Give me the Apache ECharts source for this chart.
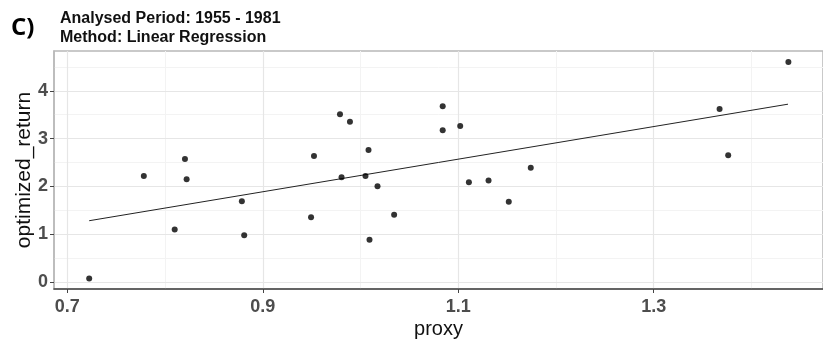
<!DOCTYPE html>
<html>
<head>
<meta charset="utf-8">
<script src="https://cdn.jsdelivr.net/npm/echarts@6/dist/echarts.min.js"></script>
<style>
  html, body { margin: 0; padding: 0; background: #fff; }
  #chart { width: 823px; height: 344px; }
</style>
</head>
<body>
<div id="chart"></div>
<script>
// scatter points (27 years, 1955 - 1981)
var proxy = [0.7224, 0.7783, 0.8204, 0.8221, 0.8099, 0.8786, 0.881, 0.9524, 0.9494,
  0.979, 0.9892, 0.9806, 1.0082, 1.0051, 1.0174, 1.0344, 1.0092, 1.0841, 1.0841,
  1.102, 1.1109, 1.131, 1.1517, 1.1742, 1.3674, 1.3762, 1.4378];
var optimizedReturn = [0.07, 2.215, 2.572, 2.148, 1.095, 1.69, 0.978, 2.634, 1.354,
  3.508, 3.352, 2.189, 2.763, 2.215, 2.004, 1.403, 0.882, 3.68, 3.173,
  3.262, 2.086, 2.121, 1.676, 2.388, 3.618, 2.654, 4.603];

// regression line end points
var fitX = [0.7224, 1.4374];
var fitY = [1.28, 3.721];

// ticks / grid
var xTicks = [0.7, 0.9, 1.1, 1.3];
var xMinor = [0.8, 1.0, 1.2, 1.4];
var yTicks = [0, 1, 2, 3, 4];
var yMinor = [0.5, 1.5, 2.5, 3.5, 4.5];

var myChart = echarts.init(document.getElementById("chart"));

var points = proxy.map(function (x, i) { return [x, optimizedReturn[i]]; });
var fitLine = fitX.map(function (x, i) { return [x, fitY[i]]; });

function gridLines(key, values, color, width) {
  return values.map(function (v) {
    var d = {};
    d[key] = v;
    d.lineStyle = { color: color, width: width, type: "solid" };
    return d;
  });
}

var tickFont = "'Liberation Sans', Arial, sans-serif";

var option = {
  animation: false,
  title: [
    {
      text: "C)",
      left: 6,
      top: 11,
      textStyle: { fontFamily: "'Open Sans', 'Noto Sans', sans-serif", fontWeight: "bold", fontSize: 24, color: "#000" }
    },
    {
      text: "Analysed Period: 1955 - 1981\nMethod: Linear Regression",
      left: 55,
      top: 4,
      textStyle: { fontFamily: tickFont, fontWeight: "bold", fontSize: 16, lineHeight: 19, color: "#111" }
    }
  ],
  grid: {
    left: 54,
    right: -2,
    top: 51,
    bottom: 50,
    show: true,
    borderColor: "#b8b8b8",
    borderWidth: 1.5
  },
  xAxis: {
    type: "value",
    min: 0.6864,
    max: 1.4732,
    name: "proxy",
    nameLocation: "middle",
    nameGap: 30,
    nameMoveOverlap: false,
    nameTextStyle: { fontFamily: tickFont, fontSize: 20, color: "#111" },
    axisLine: { show: true, onZero: false, lineStyle: { color: "#444", width: 1.5 } },
    axisTick: { show: true, customValues: xTicks, length: 4, lineStyle: { color: "#444" } },
    axisLabel: {
      customValues: xTicks,
      formatter: function (v) { return v.toFixed(1); },
      fontFamily: tickFont, fontWeight: "bold", fontSize: 18, color: "#4d4d4d", margin: 9
    },
    splitLine: { show: false }
  },
  yAxis: {
    type: "value",
    min: -0.15,
    max: 4.835,
    name: "optimized_return",
    nameLocation: "middle",
    nameGap: 19,
    nameMoveOverlap: false,
    nameTextStyle: { fontFamily: tickFont, fontSize: 21, color: "#111" },
    axisLine: { show: true, onZero: false, lineStyle: { color: "#b8b8b8", width: 1.5 } },
    axisTick: { show: true, customValues: yTicks, length: 4, lineStyle: { color: "#444" } },
    axisLabel: {
      customValues: yTicks,
      fontFamily: tickFont, fontWeight: "bold", fontSize: 18, color: "#4d4d4d", margin: 6
    },
    splitLine: { show: false }
  },
  series: [
    {
      // background grid
      type: "scatter",
      data: [],
      silent: true,
      z: 0,
      markLine: {
        silent: true,
        z: 0,
        symbol: "none",
        label: { show: false },
        animation: false,
        data: [].concat(
          gridLines("xAxis", xMinor, "#f3f3f3", 1),
          gridLines("yAxis", yMinor, "#f3f3f3", 1),
          gridLines("xAxis", xTicks, "#e6e6e6", 1.2),
          gridLines("yAxis", yTicks, "#e6e6e6", 1.2)
        )
      }
    },
    {
      type: "line",
      data: fitLine,
      symbol: "none",
      z: 3,
      lineStyle: { color: "#222", width: 1 }
    },
    {
      type: "scatter",
      data: points,
      symbolSize: 6,
      z: 4,
      itemStyle: { color: "#000" }
    }
  ]
};

myChart.setOption(option);
</script>
</body>
</html>
